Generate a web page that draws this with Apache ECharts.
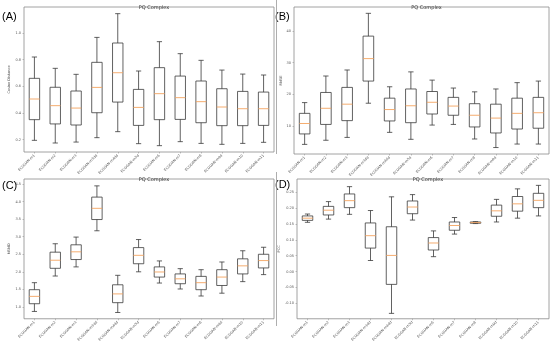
<!DOCTYPE html>
<html><head><meta charset="utf-8">
<script src="https://cdn.jsdelivr.net/npm/echarts@6/dist/echarts.min.js"></script>
<style>html,body{margin:0;padding:0;background:#fff}#c{width:550px;height:344px}</style>
</head><body><div id="c"></div>
<script>
const categories = ["ECGGAN-m1","ECGGAN-m2","ECGGAN-m3","ECGGAN-m3dd","ECGGAN-m4dd","ECGGAN-m5d","ECGGAN-m6","ECGGAN-m7","ECGGAN-m8","ECGGAN-m9d","ECGGAN-m10","ECGGAN-m11"];
// [lower whisker, Q1, median, Q3, upper whisker]
const panelA = [
  [0.195,0.35,0.505,0.66,0.82],[0.175,0.318,0.455,0.593,0.735],[0.182,0.31,0.437,0.565,0.69],
  [0.215,0.402,0.592,0.78,0.967],[0.26,0.482,0.702,0.925,1.145],[0.17,0.307,0.442,0.577,0.715],
  [0.155,0.35,0.545,0.74,0.935],[0.185,0.352,0.515,0.677,0.845],[0.172,0.327,0.485,0.64,0.795],
  [0.165,0.305,0.445,0.582,0.722],[0.172,0.305,0.432,0.562,0.692],[0.18,0.307,0.432,0.557,0.685]
];
const panelB = [
  [4.2,7.5,10.8,14.0,17.4],[5.5,10.5,15.6,20.6,25.8],[6.4,11.7,16.9,22.2,27.7],
  [17.2,24.2,31.3,38.4,45.6],[8.0,11.6,15.2,18.8,22.4],[5.8,11.05,16.4,21.7,27.1],
  [10.3,13.8,17.5,20.9,24.5],[10.5,13.4,16.3,19.05,22.0],[5.9,9.7,13.4,17.05,20.8],
  [3.2,7.8,12.5,16.9,21.7],[4.3,9.05,14.0,18.8,23.7],[4.3,9.3,14.2,19.05,24.2]
];
const panelC = [
  [0.87,1.09,1.30,1.49,1.69],[1.88,2.10,2.33,2.56,2.80],[2.14,2.35,2.57,2.77,2.99],
  [3.17,3.49,3.81,4.13,4.45],[0.84,1.12,1.37,1.63,1.90],[2.00,2.23,2.47,2.69,2.92],
  [1.68,1.85,1.995,2.14,2.31],[1.51,1.66,1.80,1.94,2.09],[1.31,1.49,1.69,1.87,2.06],
  [1.39,1.61,1.85,2.06,2.28],[1.72,1.94,2.17,2.37,2.60],[1.92,2.11,2.32,2.50,2.70]
];
const panelD = [
  [0.155,0.161,0.168,0.175,0.181],[0.165,0.178,0.193,0.205,0.220],[0.180,0.201,0.223,0.244,0.267],
  [0.035,0.074,0.113,0.153,0.192],[-0.131,-0.040,0.051,0.141,0.235],[0.162,0.182,0.203,0.222,0.242],
  [0.047,0.068,0.090,0.107,0.128],[0.118,0.130,0.145,0.156,0.170],[0.151,0.152,0.154,0.156,0.157],
  [0.156,0.174,0.191,0.209,0.227],[0.168,0.190,0.213,0.236,0.260],[0.175,0.201,0.224,0.246,0.271]
];
const yNames = ["Cosine Distance","RMSE","MSMD","PCC"];
const panelTitle = "PQ Complex";
const panelTags = ["(A)","(B)","(C)","(D)"];

const panels = [panelA, panelB, panelC, panelD];
const grids = [
  {left:24, top:7, width:250, height:145},
  {left:294, top:7, width:255, height:147},
  {left:24, top:179, width:250, height:146},
  {left:297, top:179, width:252, height:146}
];
const yRanges = [[0.1075,1.195,5],[1.16,47.6,5],[0.661,4.646,8],[-0.148,0.291,9]];
const yFmt = [v=>v.toFixed(1), v=>String(Math.round(v)), v=>v.toFixed(1), v=>v.toFixed(2)];

function renderBox(params, api){
  const x = api.value(0);
  const lo = api.coord([x, api.value(1)]);
  const q1 = api.coord([x, api.value(2)]);
  const md = api.coord([x, api.value(3)]);
  const q3 = api.coord([x, api.value(4)]);
  const hi = api.coord([x, api.value(5)]);
  const band = api.size([1,0])[0];
  const bw = band*0.5, cw = band*0.25, cx = lo[0];
  const st = {stroke:'#3a3a3a', lineWidth:0.8, fill:null};
  return {type:'group', children:[
    {type:'rect', shape:{x:cx-bw/2, y:q3[1], width:bw, height:q1[1]-q3[1]}, style:{stroke:'#3a3a3a', lineWidth:0.8, fill:'rgba(0,0,0,0)'}},
    {type:'line', shape:{x1:cx, y1:q1[1], x2:cx, y2:lo[1]}, style:st},
    {type:'line', shape:{x1:cx, y1:q3[1], x2:cx, y2:hi[1]}, style:st},
    {type:'line', shape:{x1:cx-cw/2, y1:lo[1], x2:cx+cw/2, y2:lo[1]}, style:st},
    {type:'line', shape:{x1:cx-cw/2, y1:hi[1], x2:cx+cw/2, y2:hi[1]}, style:st},
    {type:'line', shape:{x1:cx-bw/2, y1:md[1], x2:cx+bw/2, y2:md[1]}, style:{stroke:'#f4a460', lineWidth:0.9}}
  ]};
}

const option = {
  backgroundColor:'#fff',
  animation:false,
  title: grids.map(g => ({text:panelTitle, left:g.left+g.width/2, top:g.top-6.5, textAlign:'center',
    textStyle:{fontSize:5, fontWeight:'normal', color:'#333', fontFamily:'DejaVu Sans'}})),
  grid: grids.map(g => Object.assign({show:true, borderColor:'#8a8a8a', borderWidth:0.8, containLabel:false}, g)),
  xAxis: grids.map((g,i) => ({type:'category', gridIndex:i, data:categories, boundaryGap:true,
    axisLine:{show:false, onZero:false}, axisTick:{show:true, alignWithLabel:true, length:1.5, lineStyle:{color:'#888', width:0.5}},
    axisLabel:{interval:0, rotate:45, fontSize:3.5, color:'#555', margin:3, fontFamily:'DejaVu Sans'},
    splitLine:{show:false}})),
  yAxis: grids.map((g,i) => ({type:'value', gridIndex:i, min:yRanges[i][0], max:yRanges[i][1], splitNumber:yRanges[i][2],
    name:yNames[i], nameLocation:'middle', nameGap:11, nameTextStyle:{fontSize:3.5, color:'#555', fontFamily:'DejaVu Sans'},
    axisLine:{show:false, onZero:false}, axisTick:{show:true, length:1.5, lineStyle:{color:'#888', width:0.5}},
    axisLabel:{fontSize:3.5, color:'#555', margin:3, showMinLabel:false, showMaxLabel:false, formatter:yFmt[i], fontFamily:'DejaVu Sans'},
    splitLine:{show:false}})),
  series: panels.map((p,i) => ({type:'custom', xAxisIndex:i, yAxisIndex:i, renderItem:renderBox,
    encode:{x:0, y:[1,2,3,4,5]}, data:p.map((r,k)=>[k].concat(r))})),
  graphic: [
    {type:'text', left:2, top:11, style:{text:panelTags[0], fontSize:11, fill:'#000', fontFamily:'Liberation Sans'}},
    {type:'text', left:275, top:11, style:{text:panelTags[1], fontSize:11, fill:'#000', fontFamily:'Liberation Sans'}},
    {type:'text', left:2, top:180, style:{text:panelTags[2], fontSize:11, fill:'#000', fontFamily:'Liberation Sans'}},
    {type:'text', left:275, top:179, style:{text:panelTags[3], fontSize:11, fill:'#000', fontFamily:'Liberation Sans'}},
    {type:'line', shape:{x1:276.5, y1:0, x2:276.5, y2:154}, style:{stroke:'#999', lineWidth:0.8}},
    {type:'line', shape:{x1:276.5, y1:172, x2:276.5, y2:326}, style:{stroke:'#999', lineWidth:0.8}}
  ]
};
const chart = echarts.init(document.getElementById('c'), null, {renderer:'canvas'});
chart.setOption(option);
</script></body></html>
